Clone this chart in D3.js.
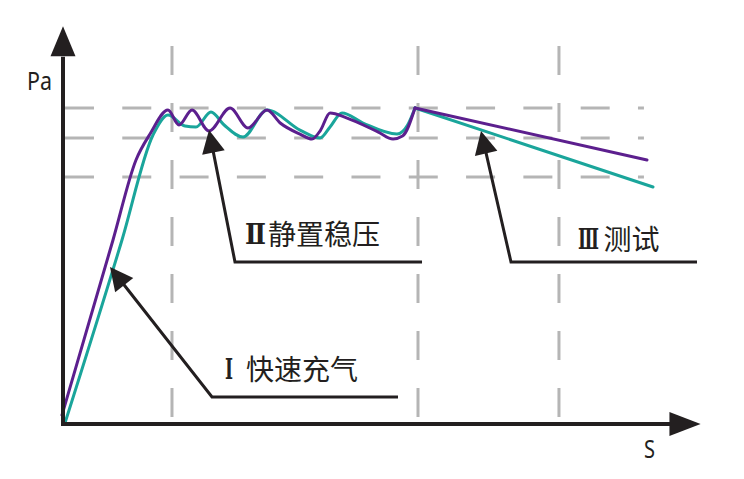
<!DOCTYPE html>
<html>
<head>
<meta charset="utf-8">
<script src="https://cdn.jsdelivr.net/npm/d3@7"></script>
<style>
  html, body { margin: 0; padding: 0; background: #fff; }
  svg { display: block; }
</style>
</head>
<body>
<div id="chart"></div>
<script>
// ---- data (x: time units, y: pressure units) ----
const seriesNames = ["purple", "teal"];
const purpleX = [-0.16, 7.85, 11.46, 13.66, 16.48, 18.21, 20.25, 22.92, 26.22, 29.04, 32.03, 34.1, 37.2, 39.09, 40.4, 41.92, 44.5, 49.5, 51.81, 53.3, 55.26, 91.68];
const purpleY = [2.28, 46.58, 66.84, 73.42, 79.49, 75.70, 79.49, 74.18, 80.00, 74.94, 79.49, 76.2, 73.4, 72.15, 74.3, 78.73, 77.5, 73.9, 72.15, 72.9, 80.00, 66.84];
const tealX = [0.31, 9.26, 14.13, 16.48, 19.15, 20.88, 23.23, 25.3, 28.26, 32.03, 37.2, 40.35, 41.92, 43.80, 47.1, 52.43, 54.1, 55.26, 92.62];
const tealY = [0.25, 46.58, 73.16, 78.23, 75.44, 75.19, 78.99, 75.7, 72.66, 79.49, 74.4, 72.41, 75.2, 78.73, 76.2, 73.42, 75.7, 80.00, 60.00];
const gridX = [17.11, 55.73, 77.86];      // dashed vertical reference lines
const gridY = [80.0, 72.41, 62.53];       // dashed horizontal reference lines
const axisLabels = ["Pa", "S"];
const phaseNumerals = ["Ⅰ", "Ⅱ", "Ⅲ"];
const phaseNames = [" 快速充气", "静置稳压", "测试"];
// annotation anchors: arrow tip, elbow, end of underline (data units)
const arrowTipX = [7.38, 22.92, 65.62];
const arrowTipY = [39.75, 74.43, 74.18];
const elbowX = [23.39, 27.0, 70.33];
const elbowY = [6.84, 41.01, 41.01];
const underlineEndX = [52.59, 56.36, 99.53];
const labelNumX = [25.43, 28.57, 80.85];
const labelTextX = [27.74, 32.18, 84.85];
const labelY = [11.14, 45.32, 44.05];

// ---- layout ----
const W = 744, H = 479;
const x = d3.scaleLinear().domain([0, 100]).range([63, 700]);
const y = d3.scaleLinear().domain([0, 100]).range([424, 29]);

const svg = d3.select("#chart").append("svg").attr("width", W).attr("height", H);

const ink = "#231f20";
const gridColor = "#b5b5b5";
const colors = { purple: "#5c1f8e", teal: "#1aa59b" };
const numeralWidths = [8, 21, 21];

// dashed reference lines
svg.append("g").selectAll("line").data(gridY).join("line")
  .attr("x1", x(0.31)).attr("x2", x(91.2))
  .attr("y1", d => y(d)).attr("y2", d => y(d))
  .attr("stroke", gridColor).attr("stroke-width", 3)
  .attr("stroke-dasharray", "29 28.3");
svg.append("g").selectAll("line").data(gridX).join("line")
  .attr("x1", d => x(d)).attr("x2", d => x(d))
  .attr("y1", y(95.7)).attr("y2", y(1.8))
  .attr("stroke", gridColor).attr("stroke-width", 3)
  .attr("stroke-dasharray", "29 28");

// series: smooth charge/hold phase, straight test-phase decay
const smooth = d3.line().x(d => x(d[0])).y(d => y(d[1])).curve(d3.curveMonotoneX);
const straight = d3.line().x(d => x(d[0])).y(d => y(d[1]));
const seriesData = {
  purple: purpleX.map((v, i) => [v, purpleY[i]]),
  teal: tealX.map((v, i) => [v, tealY[i]])
};
["teal", "purple"].forEach(name => {
  const pts = seriesData[name];
  const n = pts.length;
  [[smooth, pts.slice(0, n - 1)], [straight, pts.slice(n - 2)]].forEach(([gen, part]) => {
    svg.append("path").datum(part)
      .attr("d", gen)
      .attr("fill", "none")
      .attr("stroke", colors[name])
      .attr("stroke-width", 3)
      .attr("stroke-linejoin", "round")
      .attr("stroke-linecap", "round");
  });
});

// axes
svg.append("line").attr("x1", x(-0.3)).attr("x2", x(95.5)).attr("y1", y(0)).attr("y2", y(0))
  .attr("stroke", ink).attr("stroke-width", 4);
svg.append("path")
  .attr("d", `M${x(95.2)},${y(0) - 12}L${x(100.1)},${y(0)}L${x(95.2)},${y(0) + 12}Z`)
  .attr("fill", ink);
svg.append("line").attr("x1", x(0)).attr("x2", x(0)).attr("y1", y(-0.5)).attr("y2", y(93))
  .attr("stroke", ink).attr("stroke-width", 4);
svg.append("path")
  .attr("d", `M${x(0) - 12.5},${y(93.1)}L${x(0)},${y(100.7)}L${x(0) + 12.5},${y(93.1)}Z`)
  .attr("fill", ink);

svg.append("text").text(axisLabels[0])
  .attr("x", 27).attr("y", 90)
  .attr("font-family", "Noto Sans").attr("font-size", 26).attr("fill", ink)
  .attr("textLength", 25).attr("lengthAdjust", "spacingAndGlyphs");
svg.append("text").text(axisLabels[1])
  .attr("x", 644).attr("y", 458)
  .attr("font-family", "Noto Sans").attr("font-size", 25).attr("fill", ink)
  .attr("textLength", 11).attr("lengthAdjust", "spacingAndGlyphs");

// annotations
const headLen = 23, headHalf = 11.5;
phaseNames.forEach((name, i) => {
  const tx = x(arrowTipX[i]), ty = y(arrowTipY[i]);
  const ex = x(elbowX[i]), ey = y(elbowY[i]);
  const ux = x(underlineEndX[i]);
  const dx = tx - ex, dy = ty - ey, len = Math.hypot(dx, dy);
  const nx = dx / len, ny = dy / len;
  const bx = tx - nx * headLen, by = ty - ny * headLen;
  svg.append("path")
    .attr("d", `M${ux},${ey}L${ex},${ey}L${bx + nx * 2},${by + ny * 2}`)
    .attr("fill", "none").attr("stroke", ink).attr("stroke-width", 3);
  svg.append("path")
    .attr("d", `M${tx},${ty}L${bx - ny * headHalf},${by + nx * headHalf}L${bx + ny * headHalf},${by - nx * headHalf}Z`)
    .attr("fill", ink);
  // roman numeral, horizontally scaled to its width in the reference
  const num = svg.append("text")
    .attr("x", 0).attr("y", 0)
    .attr("font-family", "DejaVu Serif, 'Liberation Serif', serif")
    .attr("font-weight", "bold").attr("font-size", 28).attr("fill", ink)
    .text(phaseNumerals[i]);
  const natural = num.node().getComputedTextLength() || numeralWidths[i];
  const sx = numeralWidths[i] / natural;
  num.attr("transform", `translate(${x(labelNumX[i])},${y(labelY[i]) - 1}) scale(${sx},1)`);
  svg.append("text")
    .attr("x", x(labelTextX[i])).attr("y", y(labelY[i]))
    .attr("font-family", "Noto Sans CJK SC").attr("font-size", 28).attr("fill", ink)
    .style("white-space", "pre")
    .text(name);
});
</script>
</body>
</html>
